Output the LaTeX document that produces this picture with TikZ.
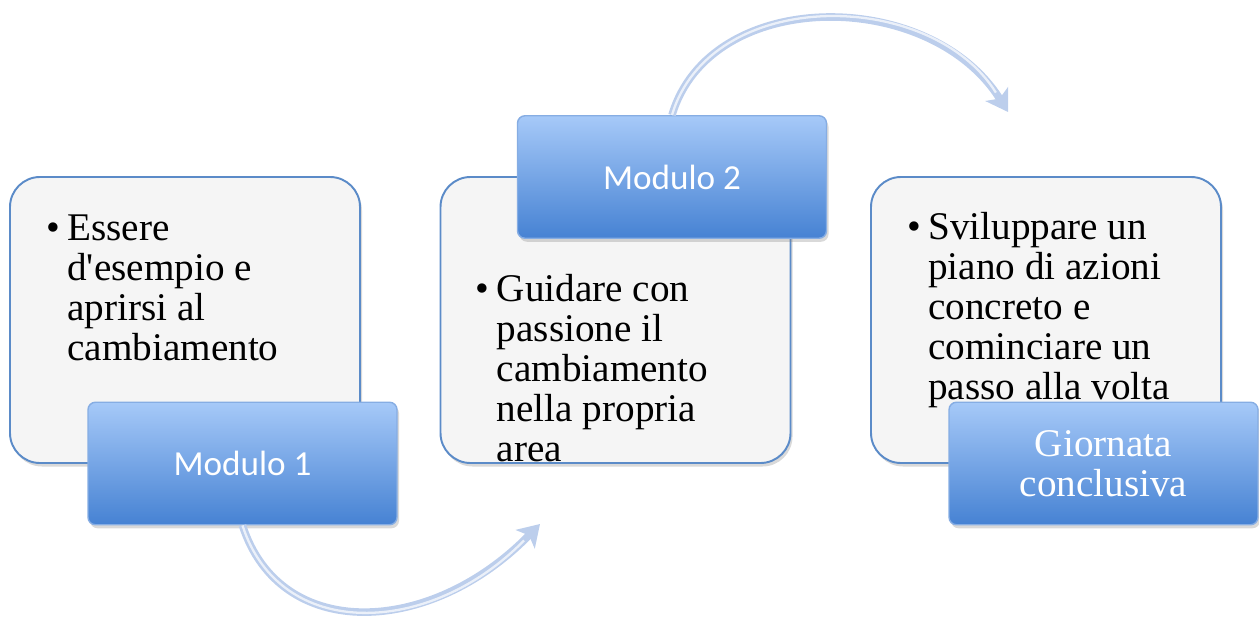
\documentclass[tikz,border=0pt]{standalone}
\usepackage{fontspec}
\setmainfont{Liberation Serif}
\newfontfamily\tabsans{Carlito}
\usetikzlibrary{arrows.meta, positioning, shadows}
\definecolor{panelfill}{HTML}{F5F5F5}
\definecolor{panelline}{HTML}{5B8BC8}
\definecolor{tabtop}{HTML}{A6C9F8}
\definecolor{tabbottom}{HTML}{4682D3}
\definecolor{tabline}{HTML}{86ADE3}
\definecolor{arcblue}{HTML}{BCCEEC}
\tikzset{
  mod panel/.style={
    rectangle, rounded corners=0.6cm, draw=panelline, line width=1.1pt,
    fill=panelfill, minimum width=7cm, minimum height=5.72cm, inner sep=0pt,
    drop shadow={shadow xshift=0.04cm, shadow yshift=-0.07cm, opacity=0.3}
  },
  mod tab/.style={
    rectangle, rounded corners=0.15cm, draw=tabline, line width=0.8pt,
    top color=tabtop, bottom color=tabbottom,
    minimum width=6.18cm, minimum height=2.45cm, inner sep=0pt,
    text=white, align=center,
    drop shadow={shadow xshift=0.04cm, shadow yshift=-0.07cm, opacity=0.3}
  },
  mod text/.style={
    inner sep=0pt, font=\fontsize{22.3}{22.8}\selectfont
  },
  mod arrow/.style={
    line width=4.3pt, draw=arcblue,
    -{Stealth[length=12pt, width=15pt, inset=3pt]},
    postaction={draw=white, line width=1.3pt, opacity=0.7, shorten >=13pt, -}
  }
}

\begin{document}
\begin{tikzpicture}
  \useasboundingbox (0,0) rectangle (25.18,12.34);

  % panels with the bullet texts
  \node (p1) [mod panel] at (3.7,5.94) {};
  \node (p2) [mod panel] at (12.31,5.94) {};
  \node (p3) [mod panel] at (20.92,5.94) {};

  \node (t1) [mod text, below right=0.72cm and 0.74cm of p1.north west]
    {\begin{tabular}{@{}p{0.42cm}@{}l@{}}
      \textbullet & Essere\\ & d\textquotesingle esempio e\\ & aprirsi al\\ & cambiamento
    \end{tabular}};
  \node (t2) [mod text, below right=1.94cm and 0.72cm of p2.north west]
    {\begin{tabular}{@{}p{0.42cm}@{}l@{}}
      \textbullet & Guidare con\\ & passione il\\ & cambiamento\\ & nella propria\\ & area
    \end{tabular}};
  \node (t3) [mod text, below right=0.70cm and 0.74cm of p3.north west]
    {\begin{tabular}{@{}p{0.42cm}@{}l@{}}
      \textbullet & Sviluppare un\\ & piano di azioni\\ & concreto e\\ & cominciare un\\ & passo alla volta
    \end{tabular}};

  % arrows
  \coordinate (a1end) at (10.8,1.86);
  \coordinate (a2end) at (20.16,10.1);

  % tabs
  \node (m1) [mod tab, font=\tabsans\fontsize{20}{24}\selectfont] at (4.85,3.07) {Modulo 1};
  \node (m2) [mod tab, font=\tabsans\fontsize{20}{24}\selectfont] at (13.44,8.8) {Modulo 2};
  \node (m3) [mod tab, font=\fontsize{22.3}{22.8}\selectfont] at (22.07,3.07) {Giornata\\conclusiva};

  \draw [mod arrow] (m1.south) .. controls (5.6,-0.5) and (8.6,-0.4) .. (a1end);
  \draw [mod arrow] (m2.north) .. controls (14.2,12.6) and (18.6,12.6) .. (a2end);
\end{tikzpicture}
\end{document}
